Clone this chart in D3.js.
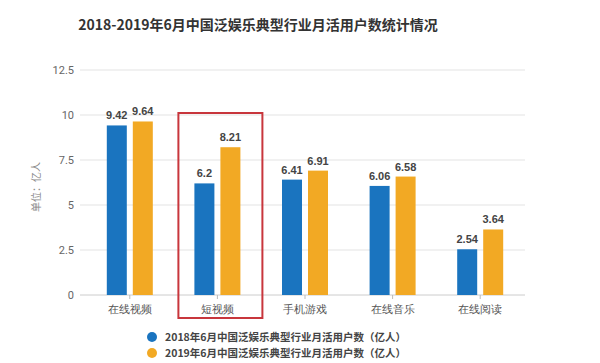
<!DOCTYPE html>
<html>
<head>
<meta charset="utf-8">
<script src="https://cdn.jsdelivr.net/npm/d3@7"></script>
<style>
  body { margin: 0; background: #fff; }
  svg { display: block; font-family: "Noto Sans CJK SC", "Noto Sans", sans-serif; }
</style>
</head>
<body>
<div id="chart"></div>
<script>
const categories = ["在线视频", "短视频", "手机游戏", "在线音乐", "在线阅读"];
const values2018 = [9.42, 6.2, 6.41, 6.06, 2.54];
const values2019 = [9.64, 8.21, 6.91, 6.58, 3.64];
const yTicks = [0, 2.5, 5, 7.5, 10, 12.5];
const seriesNames = ["2018年6月中国泛娱乐典型行业月活用户数（亿人）", "2019年6月中国泛娱乐典型行业月活用户数（亿人）"];
const highlight = "短视频";

const colors = ["#1a74bf", "#f2a924"];
const width = 600, height = 363;

const svg = d3.select("#chart").append("svg")
  .attr("width", width)
  .attr("height", height);

const x = d3.scaleBand().domain(categories).range([86, 524]);
const y = d3.scaleLinear().domain([0, 12.5]).range([295, 70]);

// title
svg.append("text")
  .attr("x", 258).attr("y", 30)
  .attr("text-anchor", "middle")
  .attr("font-size", 14).attr("font-weight", "bold")
  .attr("fill", "#333")
  .text("2018-2019年6月中国泛娱乐典型行业月活用户数统计情况");

// gridlines
svg.append("g").selectAll("line")
  .data(yTicks.filter(d => d > 0))
  .join("line")
  .attr("x1", 80).attr("x2", 525)
  .attr("y1", d => y(d)).attr("y2", d => y(d))
  .attr("stroke", "#e3e3e3");

// y axis labels
const yAxis = d3.axisLeft(y).tickValues(yTicks).tickSize(0).tickPadding(0).tickFormat(d => d);
svg.append("g")
  .attr("transform", "translate(74,0)")
  .call(yAxis)
  .call(g => g.select(".domain").remove())
  .call(g => g.selectAll("text").attr("font-size", 11).attr("fill", "#666").attr("font-family", "Roboto, 'Noto Sans', sans-serif"));

svg.append("text")
  .attr("transform", "translate(40,187) rotate(-90)")
  .attr("text-anchor", "middle")
  .attr("font-size", 10).attr("fill", "#888")
  .text("单位：亿人");

// x axis
const xAxis = d3.axisBottom(x).tickSizeOuter(0).tickSize(4).tickPadding(6);
svg.append("g")
  .attr("transform", `translate(0,${y(0)})`)
  .call(xAxis)
  .call(g => g.select(".domain").attr("stroke", "#ccc").attr("d", "M80,0H525"))
  .call(g => g.selectAll(".tick line").attr("stroke", "#bbb"))
  .call(g => g.selectAll("text").attr("font-size", 11).attr("fill", "#555"));

// bars
const barW = 20, gap = 6;
const series = [values2018, values2019];
series.forEach((vals, si) => {
  const off = si === 0 ? -(barW + gap / 2) : gap / 2;
  const g = svg.append("g");
  g.selectAll("rect")
    .data(categories)
    .join("rect")
    .attr("x", (d, i) => x(d) + x.bandwidth() / 2 + off)
    .attr("y", (d, i) => y(vals[i]))
    .attr("width", barW)
    .attr("height", (d, i) => y(0) - y(vals[i]))
    .attr("fill", colors[si]);
  g.selectAll("text")
    .data(categories)
    .join("text")
    .attr("x", (d, i) => x(d) + x.bandwidth() / 2 + off + barW / 2)
    .attr("y", (d, i) => y(vals[i]) - 6)
    .attr("text-anchor", "middle")
    .attr("font-size", 11).attr("font-weight", "bold")
    .attr("fill", "#444")
    .attr("font-family", "'Liberation Sans', Arial, sans-serif")
    .text((d, i) => vals[i]);
});

// highlight box
const hc = x(highlight) + x.bandwidth() / 2;
svg.append("rect")
  .attr("x", hc - 39).attr("y", 113)
  .attr("width", 84).attr("height", 205)
  .attr("fill", "none")
  .attr("stroke", "#c8363c").attr("stroke-width", 2);

// legend
const legend = svg.append("g").selectAll("g")
  .data(seriesNames)
  .join("g")
  .attr("transform", (d, i) => `translate(152,${337 + i * 16})`);
legend.append("circle").attr("r", 5).attr("fill", (d, i) => colors[i]);
legend.append("text")
  .attr("x", 13).attr("dy", "0.35em")
  .attr("font-size", 10.5).attr("font-weight", "bold")
  .attr("fill", "#444")
  .text(d => d);
</script>
</body>
</html>
